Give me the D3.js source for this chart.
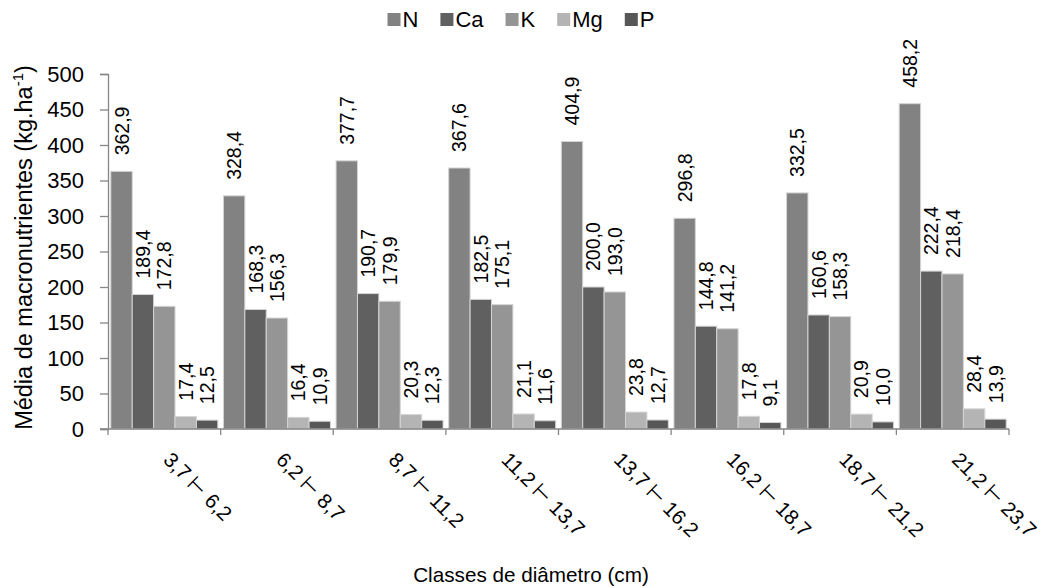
<!DOCTYPE html>
<html>
<head>
<meta charset="utf-8">
<script src="https://cdn.jsdelivr.net/npm/d3@7"></script>
<style>
  html, body { margin: 0; padding: 0; background: #fff; }
  svg { display: block; font-family: "Liberation Sans", Arial, Helvetica, sans-serif; }
</style>
</head>
<body>
<svg id="chart" width="1047" height="588"></svg>
<script>
// Diameter classes (cm)
const classes = ["3,7 \u22A2 6,2", "6,2 \u22A2 8,7", "8,7 \u22A2 11,2", "11,2 \u22A2 13,7",
                 "13,7 \u22A2 16,2", "16,2 \u22A2 18,7", "18,7 \u22A2 21,2", "21,2 \u22A2 23,7"];
const nutrients = ["N", "Ca", "K", "Mg", "P"];

// Mean macronutrient content (kg.ha-1) per diameter class
const N  = [362.9, 328.4, 377.7, 367.6, 404.9, 296.8, 332.5, 458.2];
const Ca = [189.4, 168.3, 190.7, 182.5, 200.0, 144.8, 160.6, 222.4];
const K  = [172.8, 156.3, 179.9, 175.1, 193.0, 141.2, 158.3, 218.4];
const Mg = [17.4, 16.4, 20.3, 21.1, 23.8, 17.8, 20.9, 28.4];
const P  = [12.5, 10.9, 12.3, 11.6, 12.7, 9.1, 10.0, 13.9];

const yTicks = [0, 50, 100, 150, 200, 250, 300, 350, 400, 450, 500];

const seriesValues = { N, Ca, K, Mg, P };
const colors = { N: "#828282", Ca: "#606060", K: "#959595", Mg: "#b4b4b4", P: "#575757" };

const svg = d3.select("#chart");
const plot = { left: 108, right: 1009, top: 74, bottom: 429 };
const axisColor = "#868686";
const fmt = v => v.toFixed(1).replace(".", ",");

const x = d3.scaleBand().domain(classes).range([plot.left, plot.right]).paddingInner(0.05).paddingOuter(0.025);
const xs = d3.scaleBand().domain(nutrients).range([0, x.bandwidth()]);
const y = d3.scaleLinear().domain([0, 500]).range([plot.bottom, plot.top]);

// Bars
const groups = svg.append("g").selectAll("g")
  .data(classes)
  .join("g")
  .attr("transform", d => `translate(${x(d)},0)`);

const cells = groups.selectAll("g.cell")
  .data((c, i) => nutrients.map(n => ({ n, v: seriesValues[n][i] })))
  .join("g").attr("class", "cell");

cells.append("rect")
  .attr("x", d => xs(d.n))
  .attr("y", d => y(d.v))
  .attr("width", xs.bandwidth())
  .attr("height", d => y(0) - y(d.v))
  .attr("fill", d => colors[d.n])
  .attr("stroke", "#d4d4d4")
  .attr("stroke-width", 1);

// Value labels, rotated above each bar
cells.append("text")
  .attr("transform", d => `translate(${xs(d.n) + xs.bandwidth() / 2},${y(d.v) - 16}) rotate(-90)`)
  .attr("dy", "0.36em")
  .attr("font-size", 19.5)
  .attr("fill", "#000")
  .text(d => fmt(d.v));

// Y axis
const yAxis = svg.append("g")
  .attr("transform", `translate(${plot.left},0)`)
  .call(d3.axisLeft(y).tickValues(yTicks).tickSize(8).tickPadding(16).tickFormat(d3.format("d")));
yAxis.select(".domain").attr("stroke", axisColor).attr("stroke-width", 1.3);
yAxis.selectAll(".tick line").attr("stroke", axisColor).attr("stroke-width", 1.3);
yAxis.selectAll(".tick text").attr("font-size", 22).attr("fill", "#000")
  .attr("font-family", "Liberation Sans, Arial, sans-serif");

// X axis: baseline with ticks at class boundaries
const xAxis = svg.append("g");
xAxis.append("line")
  .attr("x1", plot.left - 8).attr("x2", plot.right)
  .attr("y1", plot.bottom).attr("y2", plot.bottom)
  .attr("stroke", axisColor).attr("stroke-width", 1.5);
const step = x.step();
const bounds = classes.map(c => x(c) - x.paddingInner() * step / 2).concat([plot.right]);
xAxis.selectAll("line.tick")
  .data(bounds)
  .join("line").attr("class", "tick")
  .attr("x1", d => d).attr("x2", d => d)
  .attr("y1", plot.bottom).attr("y2", plot.bottom + 6)
  .attr("stroke", axisColor).attr("stroke-width", 1.3);

// Category labels, rotated 45°
xAxis.selectAll("text")
  .data(classes)
  .join("text")
  .attr("transform", d => `translate(${x(d) + x.bandwidth() / 2 - 2},461) rotate(45)`)
  .attr("font-size", 20.5)
  .attr("fill", "#000")
  .text(d => d);

// Axis titles
svg.append("text")
  .attr("x", 531).attr("y", 582)
  .attr("text-anchor", "middle")
  .attr("font-size", 20.7)
  .text("Classes de diâmetro (cm)");

const yTitle = svg.append("text")
  .attr("transform", `translate(32,${(plot.top + plot.bottom) / 2 - 4}) rotate(-90)`)
  .attr("text-anchor", "middle")
  .attr("font-size", 23.5);
yTitle.append("tspan").text("Média de macronutrientes (kg.ha");
yTitle.append("tspan").attr("font-size", 15).attr("dy", -9).text("-1");
yTitle.append("tspan").attr("dy", 9).text(")");

// Legend
const legend = svg.append("g");
let lx = 0;
nutrients.forEach((n, i) => {
  const item = legend.append("g").attr("transform", `translate(${lx},0)`);
  item.append("rect").attr("x", 0).attr("y", -14).attr("width", 13).attr("height", 13).attr("fill", colors[n]);
  const t = item.append("text").attr("x", 15).attr("y", 0).attr("font-size", 22).text(n);
  lx += 15 + t.node().getComputedTextLength() + 22;
});
const legendWidth = lx - 22;
legend.attr("transform", `translate(${521 - legendWidth / 2},27)`);
</script>
</body>
</html>
